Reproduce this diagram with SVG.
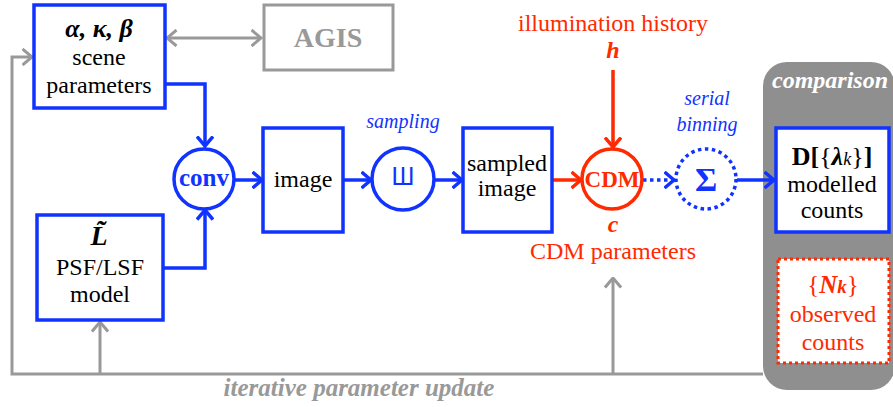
<svg xmlns="http://www.w3.org/2000/svg" width="893" height="407" viewBox="0 0 893 407">
<style>
text{font-family:"Liberation Serif","Times New Roman",serif;text-anchor:middle}
.t{font-size:24px;fill:#000}
.b{stroke:#1133ff;stroke-width:3.5;fill:#fff}
.g{stroke:#999;stroke-width:3;fill:none}
.bl{stroke:#1133ff;stroke-width:3.5;fill:none}
.rd{stroke:#ff2a00;stroke-width:3.5;fill:none}
.blue{fill:#1133ff}
.red{fill:#ff2a00}
</style>
<defs>
<marker id="ab" viewBox="0 0 12 18" markerWidth="12" markerHeight="18" refX="10.5" refY="9" orient="auto" markerUnits="userSpaceOnUse"><path d="M1,1 L10.5,9 L1,17" fill="none" stroke="#1133ff" stroke-width="3.5" stroke-dasharray="none"/></marker>
<marker id="ar" viewBox="0 0 12 18" markerWidth="12" markerHeight="18" refX="10.5" refY="9" orient="auto" markerUnits="userSpaceOnUse"><path d="M1,1 L10.5,9 L1,17" fill="none" stroke="#ff2a00" stroke-width="3.5"/></marker>
<marker id="ag" viewBox="0 0 12 18" markerWidth="12" markerHeight="18" refX="10.5" refY="9" orient="auto-start-reverse" markerUnits="userSpaceOnUse"><path d="M1,1 L10.5,9 L1,17" fill="none" stroke="#999" stroke-width="3"/></marker>
</defs>

<g id="comparison">
<rect x="763" y="62" width="132" height="328" rx="24" fill="#8f8f8f"/>
<text x="830" y="88" font-size="24" font-weight="bold" font-style="italic" fill="#fff">comparison</text>
</g>

<g id="connectors">
<path class="g" d="M763,374 L12,374 L12,57 L32,57" marker-end="url(#ag)"/>
<path class="g" d="M100,374 L100,322" marker-end="url(#ag)"/>
<path class="g" d="M613,374 L613,278" marker-end="url(#ag)"/>
<path class="g" d="M167,38 L261,38" marker-start="url(#ag)" marker-end="url(#ag)"/>
<path class="bl" d="M165,84 L205,84 L205,146" marker-end="url(#ab)"/>
<path class="bl" d="M163,268 L205,268 L205,210" marker-end="url(#ab)"/>
<path class="bl" d="M235,180 L262,180" marker-end="url(#ab)"/>
<path class="bl" d="M343,180 L371,180" marker-end="url(#ab)"/>
<path class="bl" d="M435,180 L462,180" marker-end="url(#ab)"/>
<path class="bl" d="M737,180 L774,180" marker-end="url(#ab)"/>
<path class="bl" d="M643,180 L674,180" stroke-dasharray="3.5 3.5" marker-end="url(#ab)"/>
<path class="rd" d="M552,180 L581,180" marker-end="url(#ar)"/>
<path class="rd" d="M613,70 L613,147" marker-end="url(#ar)"/>
</g>

<g id="scene">
<rect class="b" x="34" y="5" width="131" height="103"/>
<text x="99" y="37" font-size="26" font-weight="bold" font-style="italic">α, κ, β</text>
<text class="t" x="99" y="65">scene</text>
<text class="t" x="99" y="93">parameters</text>
</g>

<g id="agis">
<rect x="264" y="5" width="129" height="65" fill="#fff" stroke="#999" stroke-width="3"/>
<text x="328" y="47" font-size="28" font-weight="bold" fill="#999">AGIS</text>
</g>

<g id="psf">
<rect class="b" x="37" y="215" width="126" height="105"/>
<text x="99" y="245" font-size="28" font-weight="bold" font-style="italic">L&#x303;</text>
<text class="t" x="100" y="275">PSF/LSF</text>
<text class="t" x="100" y="302">model</text>
</g>

<g id="conv">
<circle class="b" cx="204" cy="179" r="30"/>
<text x="204" y="186" font-size="25" font-weight="bold" class="blue">conv</text>
</g>

<g id="image">
<rect class="b" x="263" y="128" width="80" height="104"/>
<text class="t" x="303" y="187">image</text>
</g>

<g id="sampling">
<circle class="b" cx="403" cy="179" r="31"/>
<text x="403" y="185" font-size="25" class="blue" style="font-family:'Liberation Sans',Arial,sans-serif">Ш</text>
<text x="403" y="128" font-size="20" font-style="italic" class="blue">sampling</text>
</g>

<g id="sampled">
<rect class="b" x="463" y="128" width="89" height="104"/>
<text class="t" x="507" y="171">sampled</text>
<text class="t" x="507" y="196">image</text>
</g>

<g id="cdm">
<circle cx="612" cy="179" r="30" fill="#fff" stroke="#ff2a00" stroke-width="3.5"/>
<text x="612" y="187" font-size="23" font-weight="bold" class="red">CDM</text>
<text x="613" y="31" font-size="24" class="red">illumination history</text>
<text x="613" y="58" font-size="24" font-weight="bold" font-style="italic" class="red">h</text>
<text x="613" y="232" font-size="24" font-weight="bold" font-style="italic" class="red">c</text>
<text x="613" y="259" font-size="24" class="red">CDM parameters</text>
</g>

<g id="binning">
<circle cx="706" cy="179" r="30" fill="#fff" stroke="#1133ff" stroke-width="3.5" stroke-dasharray="3.5 3.5"/>
<text x="706" y="191" font-size="34" font-weight="bold" class="blue">Σ</text>
<text x="707" y="105" font-size="20" font-style="italic" class="blue">serial</text>
<text x="707" y="131" font-size="20" font-style="italic" class="blue">binning</text>
</g>

<g id="modelled">
<rect class="b" x="776" y="128" width="113" height="104"/>
<text x="832" y="165" font-size="26"><tspan font-weight="bold">D[</tspan><tspan>{</tspan><tspan font-weight="bold" font-style="italic">λ</tspan><tspan font-style="italic" font-size="18">k</tspan><tspan>}</tspan><tspan font-weight="bold">]</tspan></text>
<text class="t" x="832" y="192">modelled</text>
<text class="t" x="832" y="218">counts</text>
</g>

<g id="observed">
<rect x="778" y="259" width="111" height="104" fill="#fff" stroke="#ff2a00" stroke-width="3" stroke-dasharray="3 3"/>
<text x="833" y="293" font-size="25" class="red"><tspan>{</tspan><tspan font-weight="bold" font-style="italic">N</tspan><tspan font-weight="bold" font-style="italic" font-size="19">k</tspan><tspan>}</tspan></text>
<text x="833" y="322" font-size="24" class="red">observed</text>
<text x="833" y="350" font-size="24" class="red">counts</text>
</g>

<g id="update-label">
<text x="359" y="396" font-size="25" font-weight="bold" font-style="italic" fill="#999">iterative parameter update</text>
</g>
</svg>
